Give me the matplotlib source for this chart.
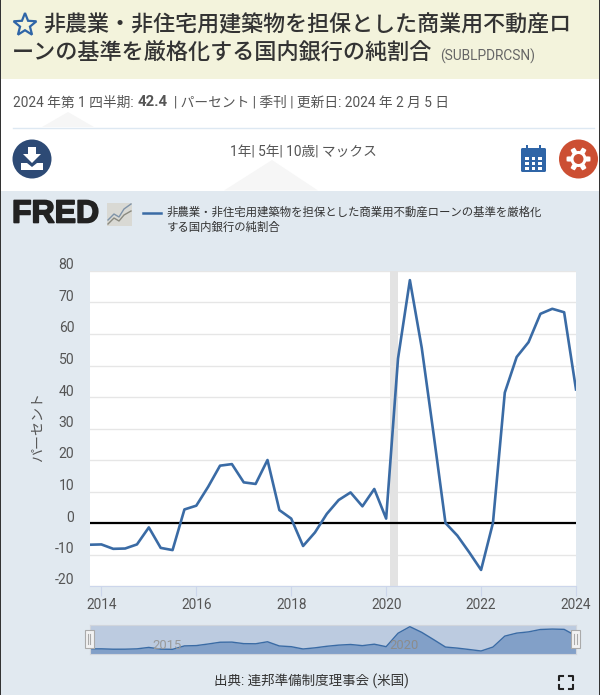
import matplotlib
matplotlib.use('Agg')
import matplotlib.pyplot as plt
import matplotlib.patheffects as pe
import numpy as np
from matplotlib.patches import Circle, Polygon, Rectangle, FancyBboxPatch
from matplotlib.transforms import ScaledTranslation

plt.rcParams['font.family'] = ['Roboto', 'Noto Sans CJK JP', 'DejaVu Sans']

# Quarterly values, 2013 Q4 to 2024 Q1
years = [2013.75 + i * 0.25 for i in range(42)]
values = [-6.9, -6.8, -8.2, -8.1, -6.8, -1.4, -7.9, -8.6, 4.3, 5.5, 11.5, 18.2,
          18.7, 12.9, 12.4, 20.0, 4.1, 1.4, -7.3, -3.0, 2.9, 7.3, 9.7, 5.3,
          10.8, 1.4, 52.2, 77.1, 55.6, 28.2, 0.0, -4.0, -9.3, -14.9, 0.0, 41.4,
          52.7, 57.4, 66.4, 68.0, 66.9, 42.4]
y_ticks = [-20, -10, 0, 10, 20, 30, 40, 50, 60, 70, 80]
x_ticks = [2014, 2016, 2018, 2020, 2022, 2024]
recession = (2020.08, 2020.25)

title_1 = '非農業・非住宅用建築物を担保とした商業用不動産ロ'
title_2 = 'ーンの基準を厳格化する国内銀行の純割合'
series_id = '(SUBLPDRCSN)'
legend_1 = '非農業・非住宅用建築物を担保とした商業用不動産ローンの基準を厳格化'
legend_2 = 'する国内銀行の純割合'

W, H = 600, 695
BG = '#e1e9f0'
BLUE = '#3a6ba5'
GREY = '#555555'


def px(size):
    return size * 72 / 100


def rect_of(left, top, right, bottom):
    return [left / W, 1 - bottom / H, (right - left) / W, (bottom - top) / H]


fig = plt.figure(figsize=(6, 6.95), dpi=100, facecolor='white')

# page furniture drawn in pixel coordinates
page = fig.add_axes([0, 0, 1, 1], zorder=0)
page.set_xlim(0, W)
page.set_ylim(H, 0)
page.axis('off')

page.add_patch(Rectangle((0, 0), W, 79, fc='#f3f3dc', ec='none'))
page.add_patch(Rectangle((0, 190.5), W, H - 190.5, fc=BG, ec='none'))
page.add_patch(Rectangle((0, 0), 1.2, H, fc='#333333', ec='none', zorder=5))
page.add_patch(Rectangle((W - 1.2, 0), 1.2, H, fc='#333333', ec='none', zorder=5))

# pale triangles behind the header
page.add_patch(Polygon([(42, 127), (68, 112), (94, 127)], fc='#f6f6f6', ec='none'))
page.add_patch(Polygon([(224, 190.5), (272, 160), (318, 190.5)], fc='#f6f6f6', ec='none'))
page.plot([13, 594], [127.5, 127.5], color='#dde8f2', lw=1)

# star
angles = np.deg2rad(np.arange(-90, 270, 36))
radii = np.array([12, 5.2] * 5)
page.add_patch(Polygon(np.c_[25 + radii * np.cos(angles), 25 + radii * np.sin(angles)],
                       fc='none', ec='#2f65a7', lw=1.6))

page.text(43.5, 26, title_1, fontsize=px(22), color='#333333', va='center', fontweight='medium')
page.text(12, 53, title_2, fontsize=px(22.1), color='#333333', va='center', fontweight='medium')
page.text(440, 56, series_id, fontsize=px(13.7), color='#666666', va='center')

page.text(13, 103, '2024 年第 1 四半期:', fontsize=px(13.75), color=GREY, va='center')
page.text(138, 102.5, '42.4', fontsize=px(15), color=GREY, va='center', fontweight='bold')
page.text(174, 103, '| パーセント | 季刊 | 更新日: 2024 年 2 月 5 日', fontsize=px(13.75),
          color=GREY, va='center')
page.text(229.5, 153, '1年| 5年| 10歳| マックス', fontsize=px(13.7), color=GREY, va='center')

# download button
page.add_patch(Circle((32, 159), 19.5, fc='#2d4a75', ec='none'))
page.add_patch(Polygon([(28, 147), (36, 147), (36, 154), (41, 154), (32, 163), (23, 154), (28, 154)],
                       fc='white', ec='none'))
page.add_patch(Polygon([(21, 170), (21, 163), (27, 163), (32, 167), (37, 163), (43, 163), (43, 170)],
                       fc='white', ec='none'))

# calendar button
page.add_patch(FancyBboxPatch((521, 148), 25, 24, boxstyle='round,pad=0,rounding_size=1.5',
                              fc='#2f65a7', ec='none'))
for cx in (527, 540):
    page.add_patch(Rectangle((cx - 1.2, 145), 2.4, 6, fc='#2f65a7', ec='none'))
for row in (156.5, 161.5, 166.5):
    for col in (525, 531.5, 538):
        page.add_patch(Rectangle((col, row), 3.5, 3.2, fc='white', ec='none'))

# settings button
page.add_patch(Circle((578.5, 159), 19.5, fc='#cc4f33', ec='none'))
theta = np.linspace(0, 2 * np.pi, 97)
gear = 10 + 2 * np.clip(3 * np.cos(6 * theta), -1, 1)
page.add_patch(Polygon(np.c_[578.5 + gear * np.cos(theta), 159 + gear * np.sin(theta)],
                       fc='white', ec='none'))
page.add_patch(Circle((578.5, 159), 5, fc='#cc4f33', ec='none'))

# FRED logo and legend
page.text(12, 214.5, 'FRED', fontsize=px(32), fontweight='bold', color='#222222', va='center',
          family=['Liberation Sans', 'DejaVu Sans'],
          path_effects=[pe.withStroke(linewidth=1.2, foreground='#222222')])
page.add_patch(Rectangle((107, 203), 25, 23, fc='#d9d9d4', ec='none'))
page.plot([108, 114, 119, 124, 131], [220, 214, 217, 209, 204], color='#7f93a8', lw=1)
page.plot([108, 114, 119, 124, 131], [224, 218, 221, 215, 211], color='#8a8a80', lw=1)
page.plot([142.5, 161], [213, 213], color=BLUE, lw=1.8)
page.text(166.5, 212, legend_1, fontsize=px(11.4), color='#333333', va='center')
page.text(166.5, 227.5, legend_2, fontsize=px(11.4), color='#333333', va='center')
page.text(214, 681.5, '出典: 連邦準備制度理事会 (米国)', fontsize=px(13.5), color='#333333', va='center')

# fullscreen corners
for cx, sx in ((559, 1), (573, -1)):
    for cy, sy in ((676, 1), (688.5, -1)):
        page.plot([cx + 4 * sx, cx, cx], [cy, cy, cy + 4 * sy], color='#222222', lw=1.5)

# main chart
ax = fig.add_axes(rect_of(89.5, 271, 576, 586), zorder=2)
ax.set_facecolor('white')
ax.set_xlim(years[0], years[-1])
ax.set_ylim(-20, 80)
ax.axvspan(*recession, color='#e3e3e3', lw=0, zorder=1)
ax.set_yticks(y_ticks)
ax.set_yticklabels(y_ticks, fontsize=px(14), color=GREY)
ax.set_xticks(x_ticks)
ax.set_xticklabels(x_ticks, fontsize=px(13.6), color=GREY)
ax.tick_params(axis='y', length=0, pad=11)
ax.tick_params(axis='x', length=7, width=0.8, color='#ccd6eb', pad=1.5)
# y labels sit a little above their gridlines
lift = ScaledTranslation(0, 7 / 100, fig.dpi_scale_trans)
for label in ax.get_yticklabels():
    label.set_transform(label.get_transform() + lift)
ax.grid(axis='y', color='#e6e6e6', lw=1)
ax.set_axisbelow(True)
for spine in ax.spines.values():
    spine.set_visible(False)
ax.spines['bottom'].set_visible(True)
ax.spines['bottom'].set_color('#ccd6eb')
ax.axhline(0, color='black', lw=1.6, zorder=2)
ax.plot(years, values, color=BLUE, lw=1.9, zorder=3)
ax.set_ylabel('パーセント', fontsize=px(14), color=GREY)
ax.yaxis.set_label_coords((45 - 89.5) / 486.5, (586 - 427) / 315)

# range navigator underneath
nav = fig.add_axes(rect_of(89.5, 625, 576, 654), zorder=2)
nav.set_facecolor('#bccbe0')
nav.set_xlim(years[0], years[-1])
nav.set_ylim(-26.3, 83.4)
nav.fill_between(years, values, -26.3, color='#82a0c8', lw=0)
nav.plot(years, values, color=BLUE, lw=1)
nav.set_xticks([])
nav.set_yticks([])
for spine in nav.spines.values():
    spine.set_color('#d0d5dc')
nav.text(2015.38, 7.5, '2015', fontsize=px(13), color='#999999', ha='center', va='center')
nav.text(2020.38, 7.5, '2020', fontsize=px(13), color='#8c8c8c', ha='center', va='center')

# navigator handles on top
top = fig.add_axes([0, 0, 1, 1], zorder=3)
top.set_xlim(0, W)
top.set_ylim(H, 0)
top.axis('off')
for hx in (89, 575.5):
    top.add_patch(Rectangle((hx - 4.5, 630), 9, 18, fc='#f2f2f2', ec='#aaaaaa', lw=0.8))
    top.plot([hx - 1.2, hx - 1.2], [634, 644], color='#aaaaaa', lw=0.8)
    top.plot([hx + 1.2, hx + 1.2], [634, 644], color='#aaaaaa', lw=0.8)

fig.savefig('out.png', dpi=100)
